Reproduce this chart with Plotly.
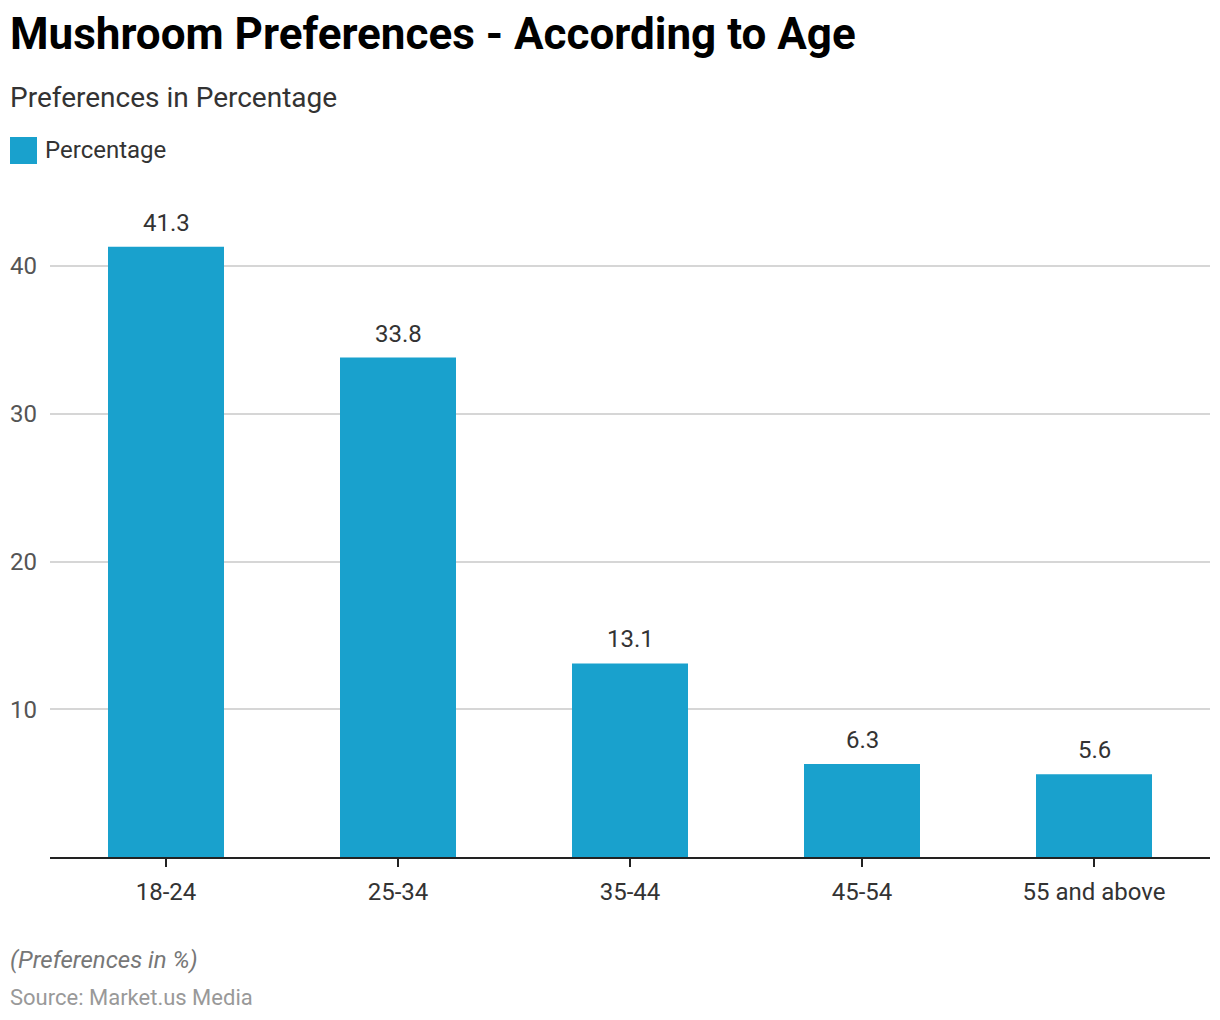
import plotly.graph_objects as go

categories = ["18-24", "25-34", "35-44", "45-54", "55 and above"]
values = [41.3, 33.8, 13.1, 6.3, 5.6]
y_ticks = [10, 20, 30, 40]

BAR = "#19a1cd"
FONT = "Roboto"
W, H = 1212, 1012
ML, MR, MT, MB = 42, 10, 192, 163

fig = go.Figure()
fig.add_trace(go.Bar(
    x=categories, y=values, name="Percentage",
    marker=dict(color=BAR, line=dict(width=0)),
    width=0.5,
    showlegend=False,
    hovertemplate="%{x}: %{y}<extra></extra>",
))

fig.update_layout(
    width=W, height=H,
    paper_bgcolor="white", plot_bgcolor="white",
    margin=dict(l=ML, r=MR, t=MT, b=MB, autoexpand=False),
    font=dict(family=FONT, size=24, color="#333333"),
    title=dict(
        text="<b>Mushroom Preferences - According to Age</b>",
        x=2 / W, xanchor="left", xref="container",
        y=1 - 26 / H, yanchor="middle", yref="container",
        font=dict(family=FONT, size=44, color="#000000"),
    ),
    xaxis=dict(
        type="category", automargin=False,
        showline=True, linecolor="#222222", linewidth=2,
        ticks="outside", ticklen=8, tickwidth=2, tickcolor="#222222",
        ticklabelstandoff=4,
        tickfont=dict(family=FONT, size=24, color="#333333"),
        showgrid=False,
    ),
    yaxis=dict(
        automargin=False,
        range=[0, (H - MB - MT) / 14.775],
        tickvals=y_ticks,
        showgrid=True, gridcolor="#d6d6d6", gridwidth=2,
        zeroline=False, showline=False,
        ticks="", ticklabelstandoff=12,
        tickfont=dict(family=FONT, size=24, color="#555555"),
    ),
)

# data labels
for c, v in zip(categories, values):
    fig.add_annotation(
        x=c, y=v, xref="x", yref="y", text=f"{v:.1f}",
        showarrow=False, yanchor="bottom", yshift=8,
        font=dict(family=FONT, size=24, color="#333333"),
    )

PW = W - ML - MR
PH = H - MT - MB

def px_to_paper(x, y):
    return (x - ML) / PW, (H - MB - y) / PH

# legend swatch
x0, y0 = px_to_paper(2, 129)
x1, y1 = px_to_paper(29, 156)
fig.add_shape(type="rect", xref="paper", yref="paper",
              x0=x0, y0=y1, x1=x1, y1=y0,
              fillcolor=BAR, line=dict(width=0))

texts = [
    dict(text="Percentage", x=35, y=142, size=24, color="#333333"),
    dict(text="Preferences in Percentage", x=0, y=89, size=28, color="#333333"),
    dict(text="<i>(Preferences in %)</i>", x=0, y=952, size=24, color="#777777"),
    dict(text="Source: Market.us Media", x=0, y=989, size=22, color="#999999"),
]
for a in texts:
    px, py = px_to_paper(a["x"], a["y"])
    fig.add_annotation(
        text=a["text"], xref="paper", yref="paper", x=px, y=py,
        xanchor="left", yanchor="middle", showarrow=False,
        font=dict(family=FONT, size=a["size"], color=a["color"]),
    )

fig.write_html("out.html")
